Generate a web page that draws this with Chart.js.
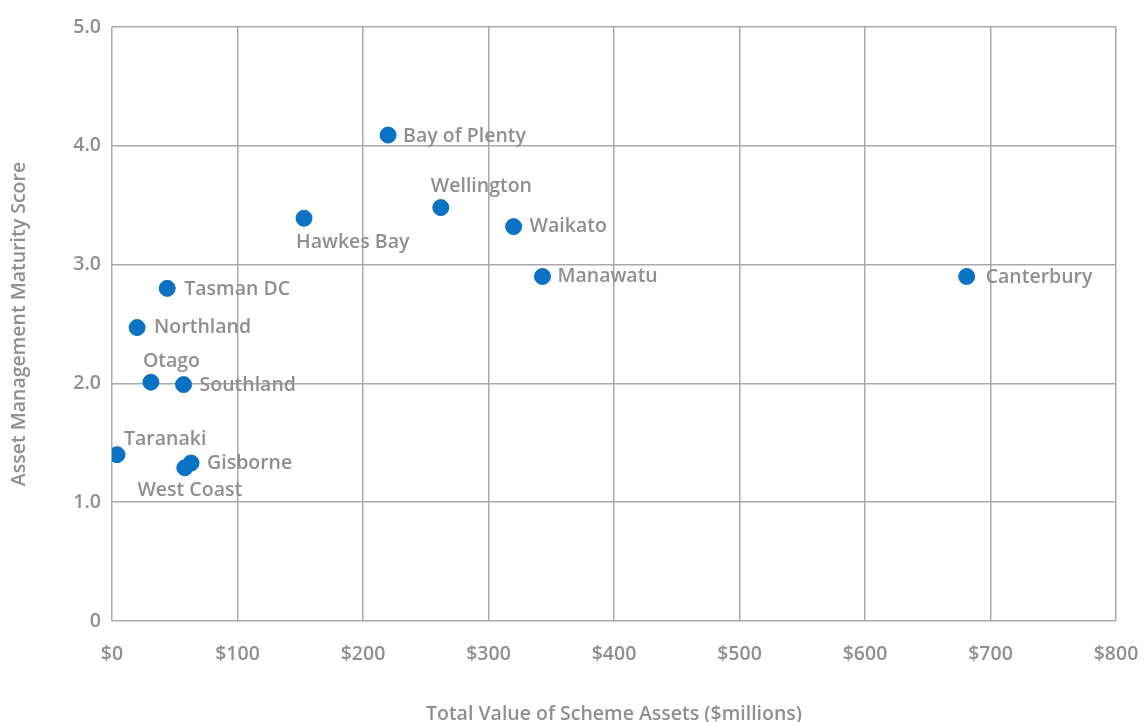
<!DOCTYPE html>
<html>
<head>
<meta charset="utf-8">
<script src="https://cdn.jsdelivr.net/npm/chart.js@4"></script>
<style>
  html, body { margin: 0; padding: 0; background: #ffffff; }
  #wrap { width: 1144px; height: 722px; }
</style>
</head>
<body>
<div id="wrap"><canvas id="chart"></canvas></div>
<script>
// Datos de las regiones
const regions = ["Taranaki", "West Coast", "Gisborne", "Otago", "Southland", "Northland",
  "Tasman DC", "Hawkes Bay", "Bay of Plenty", "Wellington", "Waikato", "Manawatu", "Canterbury"];
const assets = [4, 58, 63, 31, 57, 20, 44, 153, 220, 262, 320, 343, 681];
const scores = [1.40, 1.29, 1.33, 2.01, 1.99, 2.47, 2.80, 3.39, 4.09, 3.48, 3.32, 2.90, 2.90];

// Posición de cada etiqueta respecto a su punto (dx, dy, alineación)
const labelPlace = [
  [7, -15, "left"], [5, 23, "center"], [16, 0, "left"], [-8, -21, "left"],
  [16, 1, "left"], [17, 0, "left"], [17, 1, "left"], [-8, 24, "left"],
  [15, 1, "left"], [-10, -21, "left"], [16, 0, "left"], [15, 0, "left"], [19, 1, "left"]
];

const grey = "#8f8f8f";
const gridGrey = "#a9a9a9";
const font = "'Open Sans', sans-serif";

// Plugin para dibujar los nombres junto a los puntos
const pointLabels = {
  id: "pointLabels",
  afterDatasetsDraw(chart) {
    const ctx = chart.ctx;
    const meta = chart.getDatasetMeta(0);
    ctx.save();
    ctx.font = "600 19.5px " + font;
    ctx.fillStyle = grey;
    ctx.textBaseline = "middle";
    meta.data.forEach((pt, i) => {
      const [dx, dy, align] = labelPlace[i];
      ctx.textAlign = align;
      ctx.fillText(regions[i], pt.x + dx, pt.y + dy);
    });
    ctx.restore();
  }
};

new Chart(document.getElementById("chart"), {
  type: "scatter",
  data: {
    datasets: [{
      label: "Regiones",
      data: assets.map((a, i) => ({ x: a, y: scores[i] })),
      backgroundColor: "#0a72c2",
      borderColor: "#0a72c2",
      pointRadius: 8,
      pointHoverRadius: 8
    }]
  },
  options: {
    responsive: true,
    maintainAspectRatio: false,
    animation: false,
    layout: { padding: { top: 27, right: 28, left: 0, bottom: 0 } },
    plugins: {
      legend: { display: false },
      tooltip: { enabled: false }
    },
    scales: {
      x: {
        type: "linear",
        min: 0,
        max: 800,
        afterFit: s => { s.height = 101; s.paddingRight = 0; s.paddingLeft = 0; },
        border: { display: false },
        grid: { color: gridGrey, lineWidth: 1.5, drawTicks: false },
        ticks: {
          stepSize: 100,
          padding: 22,
          color: grey,
          font: { family: font, size: 19.5, weight: "600" },
          callback: v => "$" + v
        },
        title: {
          display: true,
          text: "Total Value of Scheme Assets ($millions)",
          color: grey,
          font: { family: font, size: 19.5, weight: "600" },
          padding: { top: 0, bottom: -4 }
        }
      },
      y: {
        min: 0,
        max: 5,
        afterFit: s => { s.width = 112; },
        border: { display: false },
        grid: { color: gridGrey, lineWidth: 1.5, drawTicks: false },
        ticks: {
          stepSize: 1,
          padding: 11,
          color: grey,
          font: { family: font, size: 19.5, weight: "600" },
          callback: v => v === 0 ? "0" : v.toFixed(1)
        },
        title: {
          display: true,
          text: "Asset Management Maturity Score",
          color: grey,
          font: { family: font, size: 19.5, weight: "600" },
          padding: { top: 8, bottom: 0 }
        }
      }
    }
  },
  plugins: [pointLabels]
});
</script>
</body>
</html>
